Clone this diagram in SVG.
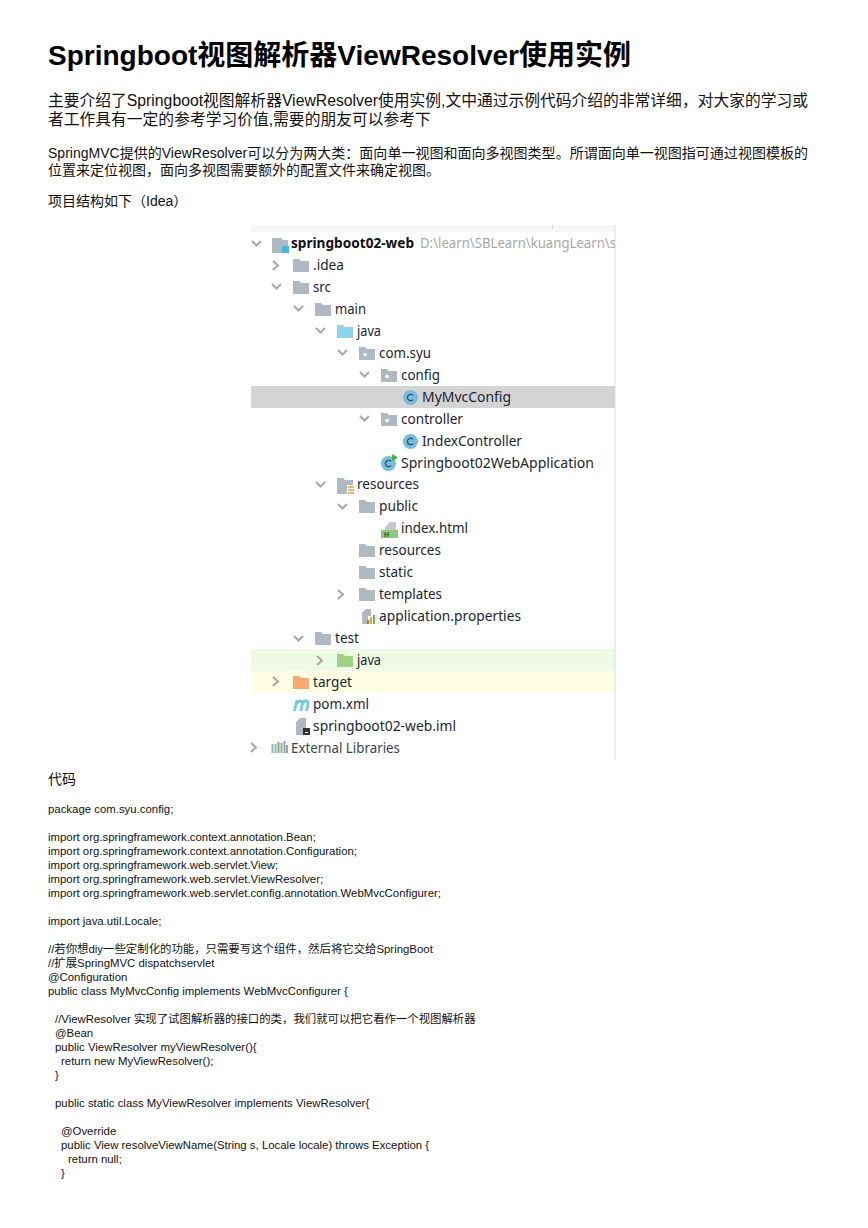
<svg xmlns="http://www.w3.org/2000/svg" width="868" height="1228" viewBox="0 0 868 1228">
<style>
text{font-family:"Liberation Sans","Noto Sans CJK SC",sans-serif;fill:#111;white-space:pre}
.h{font-size:28px;font-weight:bold;fill:#000}
.a{font-size:15.77px}
.b{font-size:14px}
.c{font-size:11.4px}
.t{font-family:"Noto Sans","Noto Sans CJK SC",sans-serif;font-size:14px;fill:#1c2530}
.chev{fill:none;stroke:#a8a8a8;stroke-width:2}
</style>
<defs>
<clipPath id="img"><rect x="251" y="225" width="364" height="535"/></clipPath>
<path id="fd" d="M0,0h6l2,2h8v11h-16z"/>
<g id="folder"><use href="#fd" fill="#b0b9c1"/></g>
<g id="pkg"><use href="#fd" fill="#b0b9c1"/><circle cx="6" cy="7.500" r="1.700" fill="#fff"/></g>
<path id="down" class="chev" d="M0,0l4.500,4.500l4.500,-4.500"/>
<path id="right" class="chev" d="M0,0l5,4.500l-5,4.500"/>
<g id="cls"><circle cx="7.500" cy="7.500" r="7.500" fill="#74bde0"/><path d="M10,5.400a3.200,3.200 0 1 0 0,4.200" fill="none" stroke="#39505e" stroke-width="1.300"/></g>
</defs>
<rect width="868" height="1228" fill="#fff"/>
<g id="heading">
<text class="h" x="48" y="65" textLength="583" lengthAdjust="spacingAndGlyphs">Springboot视图解析器ViewResolver使用实例</text>
<text class="a" x="48" y="106" textLength="760" lengthAdjust="spacingAndGlyphs">主要介绍了Springboot视图解析器ViewResolver使用实例,文中通过示例代码介绍的非常详细，对大家的学习或</text>
<text class="a" x="48" y="125">者工作具有一定的参考学习价值,需要的朋友可以参考下</text>
<text class="b" x="48" y="158" textLength="760" lengthAdjust="spacingAndGlyphs">SpringMVC提供的ViewResolver可以分为两大类：面向单一视图和面向多视图类型。所谓面向单一视图指可通过视图模板的</text>
<text class="b" x="48" y="175">位置来定位视图，面向多视图需要额外的配置文件来确定视图。</text>
<text class="b" x="48" y="206">项目结构如下（Idea）</text>
</g>
<g id="project-tree">
<rect x="251" y="225" width="364" height="535" fill="#fff"/>
<rect x="251" y="225" width="364" height="7" fill="#f6f6f6"/>
<rect x="552" y="225" width="1" height="4" fill="#d8d8d8"/>
<rect x="251" y="386" width="364" height="22" fill="#d4d4d4"/>
<rect x="251" y="649" width="364" height="22" fill="#eef9e6"/>
<rect x="251" y="671" width="364" height="22" fill="#fdfee4"/>
<rect x="614.500" y="225" width="1" height="535" fill="#dcdcdc"/>
<path d="M272,238h9l2,2h5v13h-16z" fill="#b0b9c1"/><rect x="282" y="246" width="7" height="7" fill="#40b6e0"/>
<use href="#down" x="252" y="241"/>
<text class="t" x="291" y="248" textLength="123" lengthAdjust="spacingAndGlyphs" style="font-weight:bold;fill:#111">springboot02-web</text>
<g clip-path="url(#img)"><text class="t" x="420" y="248" textLength="196" lengthAdjust="spacingAndGlyphs" style="fill:#a8a8a8">D:\learn\SBLearn\kuangLearn\s</text></g>
<use href="#right" x="273" y="261"/><use href="#folder" x="293" y="259"/><text class="t" x="313" y="270" textLength="31" lengthAdjust="spacingAndGlyphs">.idea</text>
<use href="#down" x="272" y="284"/><use href="#folder" x="293" y="281"/><text class="t" x="313" y="292" textLength="18" lengthAdjust="spacingAndGlyphs">src</text>
<use href="#down" x="294" y="306"/><use href="#folder" x="315" y="303"/><text class="t" x="335" y="314" textLength="31" lengthAdjust="spacingAndGlyphs">main</text>
<use href="#down" x="316" y="328"/><path d="M337,325h6l2,2h8v11h-16z" fill="#8ed3ef"/><text class="t" x="357" y="336" textLength="24" lengthAdjust="spacingAndGlyphs">java</text>
<use href="#down" x="338" y="350"/><use href="#pkg" x="359" y="347"/><text class="t" x="379" y="358" textLength="52" lengthAdjust="spacingAndGlyphs">com.syu</text>
<use href="#down" x="360" y="372"/><use href="#pkg" x="381" y="369"/><text class="t" x="401" y="380" textLength="39" lengthAdjust="spacingAndGlyphs">config</text>
<use href="#cls" x="403" y="390"/><text class="t" x="422" y="402" textLength="89" lengthAdjust="spacingAndGlyphs">MyMvcConfig</text>
<use href="#down" x="360" y="416"/><use href="#pkg" x="381" y="413"/><text class="t" x="401" y="424" textLength="62" lengthAdjust="spacingAndGlyphs">controller</text>
<use href="#cls" x="403" y="434"/><text class="t" x="422" y="446" textLength="100" lengthAdjust="spacingAndGlyphs">IndexController</text>
<use href="#cls" x="381" y="456"/><path d="M392,454l6,3.500l-6,3.500z" fill="#3cb43c"/><text class="t" x="401" y="468" textLength="193" lengthAdjust="spacingAndGlyphs">Springboot02WebApplication</text>
<use href="#down" x="316" y="482"/><path d="M337,478h6l2,2h8v5h-6v9h-10z" fill="#b0b9c1"/><path d="M348,487h6M348,490h6M348,493h6" stroke="#d9a441" stroke-width="1.300"/><text class="t" x="357" y="489" textLength="62" lengthAdjust="spacingAndGlyphs">resources</text>
<use href="#down" x="338" y="504"/><use href="#folder" x="359" y="500"/><text class="t" x="379" y="511" textLength="39" lengthAdjust="spacingAndGlyphs">public</text>
<path d="M385,530v-3l5,-5h6v8z" fill="#c2c8cd"/><rect x="381" y="530" width="17" height="8" fill="#8ec97a"/><text x="384" y="537" style="font-size:7px;font-weight:bold;fill:#2d5a2d">H</text><text class="t" x="401" y="533" textLength="67" lengthAdjust="spacingAndGlyphs">index.html</text>
<use href="#folder" x="359" y="544"/><text class="t" x="379" y="555" textLength="62" lengthAdjust="spacingAndGlyphs">resources</text>
<use href="#folder" x="359" y="566"/><text class="t" x="379" y="577" textLength="34" lengthAdjust="spacingAndGlyphs">static</text>
<use href="#right" x="338" y="590"/><use href="#folder" x="359" y="588"/><text class="t" x="379" y="599" textLength="63" lengthAdjust="spacingAndGlyphs">templates</text>
<path d="M362,613l4,-4h5v7h-3v8h-6z" fill="#b0b9c1"/><rect x="367" y="620" width="2" height="4" fill="#e0641e"/><rect x="370" y="617" width="2" height="7" fill="#e8a23c"/><rect x="373" y="615" width="2" height="9" fill="#6fb04c"/><text class="t" x="379" y="621" textLength="142" lengthAdjust="spacingAndGlyphs">application.properties</text>
<use href="#down" x="294" y="636"/><use href="#folder" x="315" y="632"/><text class="t" x="335" y="643" textLength="24" lengthAdjust="spacingAndGlyphs">test</text>
<use href="#right" x="317" y="656"/><path d="M337,654h6l2,2h8v11h-16z" fill="#9ed384"/><text class="t" x="357" y="665" textLength="24" lengthAdjust="spacingAndGlyphs">java</text>
<use href="#right" x="273" y="677"/><path d="M293,676h6l2,2h8v11h-16z" fill="#f9a870"/><text class="t" x="313" y="687" textLength="39" lengthAdjust="spacingAndGlyphs">target</text>
<path d="M294.500,711l2.500,-11M296.800,703q3,-3 5,-1.500q1,1 .5,3l-1.500,6.500M302.500,703q3,-3 5,-1.500q1,1 .5,3l-1.500,6.500" fill="none" stroke="#74c6ea" stroke-width="2.800"/><text class="t" x="313" y="709" textLength="56" lengthAdjust="spacingAndGlyphs">pom.xml</text>
<path d="M296,727v-5l4,-4h6v10h-3v7h-7z" fill="#b0b9c1"/><rect x="303" y="728" width="7" height="7" fill="#333"/><rect x="305" y="732" width="3" height="1" fill="#fff"/><text class="t" x="313" y="731" textLength="143" lengthAdjust="spacingAndGlyphs">springboot02-web.iml</text>
<use href="#right" x="251" y="743"/>
<path d="M272.500,744v9M275.500,744v9" stroke="#8ab8c8" stroke-width="2"/><path d="M278.500,742v11" stroke="#80b060" stroke-width="2"/><path d="M281.500,743v10M284.500,741v12M287,745v8" stroke="#9aa4ac" stroke-width="2"/>
<text class="t" x="291" y="753" textLength="109" lengthAdjust="spacingAndGlyphs" style="fill:#3a4450">External Libraries</text>
</g>
<g id="code">
<text class="b" x="48" y="784">代码</text>
<text class="c" x="48" y="813">package com.syu.config;</text>
<text class="c" x="48" y="841">import org.springframework.context.annotation.Bean;</text>
<text class="c" x="48" y="855">import org.springframework.context.annotation.Configuration;</text>
<text class="c" x="48" y="869">import org.springframework.web.servlet.View;</text>
<text class="c" x="48" y="883">import org.springframework.web.servlet.ViewResolver;</text>
<text class="c" x="48" y="897">import org.springframework.web.servlet.config.annotation.WebMvcConfigurer;</text>
<text class="c" x="48" y="925">import java.util.Locale;</text>
<text class="c" x="48" y="953">//若你想diy一些定制化的功能，只需要写这个组件，然后将它交给SpringBoot</text>
<text class="c" x="48" y="967">//扩展SpringMVC dispatchservlet</text>
<text class="c" x="48" y="981">@Configuration</text>
<text class="c" x="48" y="995">public class MyMvcConfig implements WebMvcConfigurer {</text>
<text class="c" x="55" y="1023">//ViewResolver 实现了试图解析器的接口的类，我们就可以把它看作一个视图解析器</text>
<text class="c" x="55" y="1037">@Bean</text>
<text class="c" x="55" y="1051">public ViewResolver myViewResolver(){</text>
<text class="c" x="61" y="1065">return new MyViewResolver();</text>
<text class="c" x="55" y="1079">}</text>
<text class="c" x="55" y="1107">public static class MyViewResolver implements ViewResolver{</text>
<text class="c" x="61" y="1135">@Override</text>
<text class="c" x="61" y="1149">public View resolveViewName(String s, Locale locale) throws Exception {</text>
<text class="c" x="68" y="1163">return null;</text>
<text class="c" x="61" y="1177">}</text>
</g>
</svg>
